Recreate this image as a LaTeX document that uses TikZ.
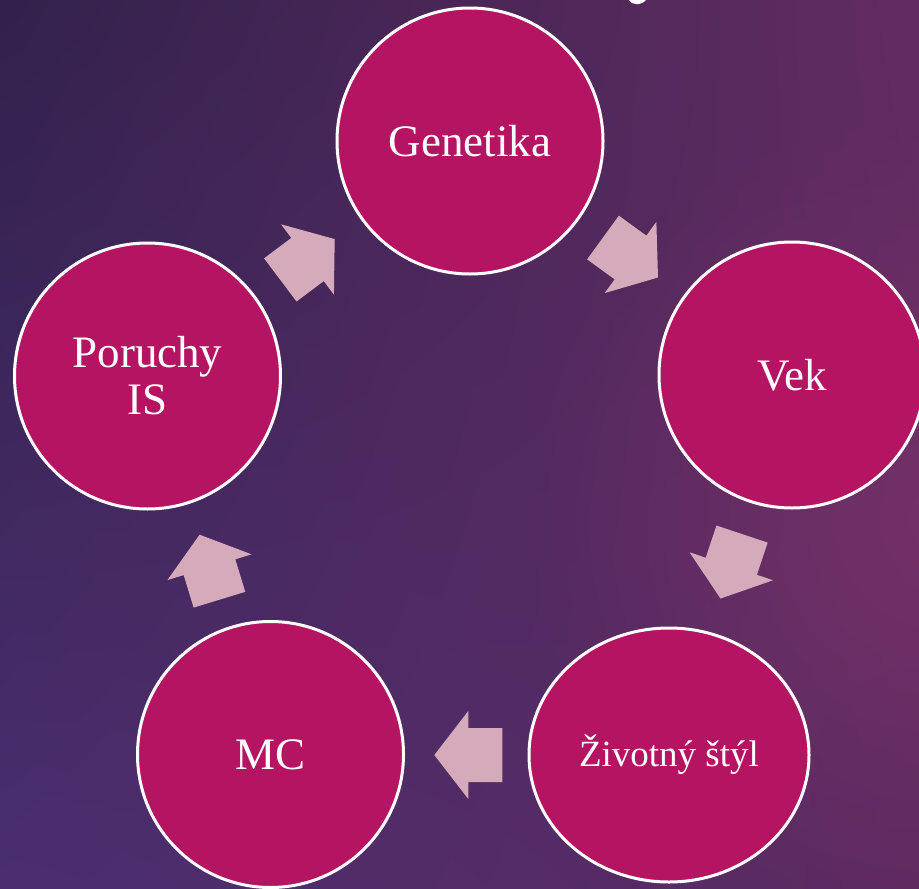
\documentclass[tikz,border=0pt]{standalone}
\usepackage{fontspec}
\setmainfont{Liberation Serif}
\usetikzlibrary{shapes.geometric,shadings,fadings}
\definecolor{bgUL}{RGB}{50,33,76}
\definecolor{bgUR}{RGB}{98,44,98}
\definecolor{bgLL}{RGB}{74,46,112}
\definecolor{bgLR}{RGB}{92,42,96}
\definecolor{glow}{RGB}{130,52,108}
\definecolor{bubblefill}{RGB}{180,20,98}
\definecolor{arrowpink}{RGB}{213,170,186}
\tikzfading[name=softglow, inner color=transparent!0, outer color=transparent!100]
\tikzset{
  bubble/.style={circle, draw=white, line width=3pt, fill=bubblefill, text=white,
    minimum size=266pt, inner sep=0pt, align=center,
    font=\fontsize{45}{47}\selectfont},
  bubbleoval/.style={ellipse, draw=white, line width=3pt, fill=bubblefill, text=white,
    minimum width=280pt, minimum height=254pt, inner sep=0pt, align=center,
    font=\fontsize{37}{40}\selectfont},
  cyclearrow/.style={fill=arrowpink}
}
\begin{document}
\begin{tikzpicture}[x=1pt,y=-1pt]
\useasboundingbox (0,0) rectangle (919,889);
\shade[upper left=bgUL, upper right=bgUR, lower left=bgLL, lower right=bgLR] (0,0) rectangle (919,889);
\begin{scope}
\clip (0,0) rectangle (919,889);
\fill[glow, opacity=0.6, path fading=softglow] (940,520) circle (420);
\end{scope}
% fragment of the cut-off title
\fill[white] (629,0) .. controls (631,5) and (641,6) .. (646,0) -- cycle;
% bubbles
\node[bubble] (gen) at (470,141) {Genetika};
\node[bubble] (vek) at (792,375) {Vek};
\node[bubbleoval] (ziv) at (669,755) {Životný štýl};
\node[bubble] (mc) at (270.5,754.5) {MC};
\node[bubble] (por) at (147.5,376) {Poruchy\\IS};
% block arrows
\foreach \cx/\cy/\ang in {307.5/259.5/36.9, 630.5/257.5/-36, 731.3/566.3/-108.5, 468.3/755/180, 209.5/567.2/107}{
  \fill[cyclearrow, shift={(\cx,\cy)}, rotate=\ang]
    (34,0) -- (0,44) -- (0,27) -- (-34,27) -- (-34,-27) -- (0,-27) -- (0,-44) -- cycle;
}
\end{tikzpicture}
\end{document}
